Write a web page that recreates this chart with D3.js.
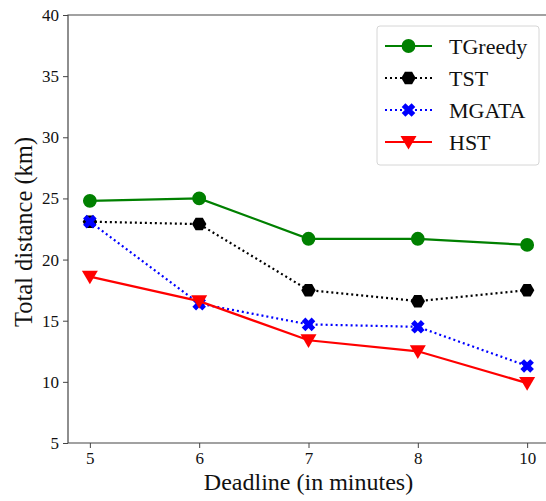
<!DOCTYPE html>
<html lang="en">
<head>
  <meta charset="UTF-8">
  <title>Total distance</title>
</head>
<body style="margin:0;background:#fff">
  <script src="https://d3js.org/d3.v7.min.js"></script>
  <script>
    const width = 546;
    const height = 501;
    const serif = '"Liberation Serif", "DejaVu Serif", serif';

    const deadlines = ['5', '6', '7', '8', '10'];
    const yTicks = [5, 10, 15, 20, 25, 30, 35, 40];
    const tgreedy = [24.8, 25.0, 21.7, 21.7, 21.2];
    const tst = [23.1, 22.9, 17.5, 16.6, 17.5];
    const mgata = [23.1, 16.4, 14.7, 14.5, 11.3];
    const hst = [18.6, 16.6, 13.4, 12.5, 9.9];

    const series = [
      { name: 'TGreedy', values: tgreedy, color: 'green', dash: null, marker: 'circle' },
      { name: 'TST', values: tst, color: 'black', dash: '2,3', marker: 'hexagon' },
      { name: 'MGATA', values: mgata, color: 'blue', dash: '2,3', marker: 'x' },
      { name: 'HST', values: hst, color: 'red', dash: null, marker: 'tri' }
    ];

    const mLeft = 68, mRight = 549, mTop = 15, mBottom = 443;

    const x = d3.scalePoint()
                .domain(deadlines)
                .range([mLeft, mRight])
                .padding(0.2);
    const y = d3.scaleLinear()
                .domain([5, 40])
                .range([mBottom, mTop]);

    const svg = d3.select('body')
                  .append('svg')
                  .attr('width', width)
                  .attr('height', height)
                  .style('font-family', serif);

    // marker shapes
    const markerPath = (type) => {
      if (type === 'circle') return d3.symbol(d3.symbolCircle, 150)();
      if (type === 'hexagon') {
        const r = 7.2;
        const pts = d3.range(6).map(i => {
          const a = Math.PI / 3 * i;
          return [r * Math.cos(a), r * Math.sin(a)];
        });
        return 'M' + pts.join('L') + 'Z';
      }
      if (type === 'x') {
        const a = 7, b = 2.6;
        // filled X made of a rotated plus
        const p = [[-b, -a], [b, -a], [b, -b], [a, -b], [a, b], [b, b], [b, a], [-b, a], [-b, b], [-a, b], [-a, -b], [-b, -b]];
        const c = Math.SQRT1_2;
        return 'M' + p.map(([px, py]) => [(px - py) * c, (px + py) * c]).join('L') + 'Z';
      }
      // triangle pointing down
      const s = 8;
      return `M${-s},${-s * 0.75}L${s},${-s * 0.75}L0,${s * 0.95}Z`;
    };

    // axes
    const yAxis = d3.axisLeft(y).tickValues(yTicks).tickSize(5).tickPadding(4);
    const xAxis = d3.axisBottom(x).tickSize(5).tickPadding(4);

    const gy = svg.append('g')
                  .attr('transform', 'translate(' + mLeft + ',0)')
                  .call(yAxis);
    const gx = svg.append('g')
                  .attr('transform', 'translate(0,' + mBottom + ')')
                  .call(xAxis);
    [gx, gy].forEach(g => {
      g.attr('font-family', null).attr('font-size', null);
      g.select('.domain').remove();
      g.selectAll('line').attr('stroke', '#444');
      g.selectAll('text')
       .style('font-family', serif)
       .style('font-size', '17px')
       .attr('fill', '#111');
    });

    // frame
    svg.append('path')
       .attr('d', `M${mRight},${mTop}H${mLeft}V${mBottom}H${mRight}`)
       .attr('fill', 'none')
       .attr('stroke', '#444')
       .attr('stroke-width', 1.2);

    // lines
    const line = d3.line()
                   .x((d, i) => x(deadlines[i]))
                   .y(d => y(d));

    series.forEach(s => {
      svg.append('path')
         .datum(s.values)
         .attr('d', line)
         .attr('fill', 'none')
         .attr('stroke', s.color)
         .attr('stroke-width', 2.2)
         .attr('stroke-dasharray', s.dash);
      svg.selectAll(null)
         .data(s.values)
         .enter()
         .append('path')
         .attr('d', markerPath(s.marker))
         .attr('transform', (d, i) => 'translate(' + x(deadlines[i]) + ',' + y(d) + ')')
         .attr('fill', s.color);
    });

    // axis labels
    svg.append('text')
       .attr('x', (mLeft + mRight) / 2)
       .attr('y', 490)
       .attr('text-anchor', 'middle')
       .attr('fill', '#111')
       .style('font-family', serif)
       .style('font-size', '24px')
       .text('Deadline (in minutes)');
    svg.append('text')
       .attr('transform', 'translate(32,232) rotate(-90)')
       .attr('text-anchor', 'middle')
       .attr('fill', '#111')
       .style('font-family', serif)
       .style('font-size', '24.5px')
       .text('Total distance (km)');

    // legend
    const legend = svg.append('g');
    legend.append('rect')
          .attr('x', 377)
          .attr('y', 26)
          .attr('width', 162)
          .attr('height', 139)
          .attr('rx', 3)
          .attr('fill', '#fff')
          .attr('stroke', '#d6d6d6');
    series.forEach((s, i) => {
      const ly = 46 + i * 32;
      legend.append('line')
            .attr('x1', 385).attr('x2', 432)
            .attr('y1', ly).attr('y2', ly)
            .attr('stroke', s.color)
            .attr('stroke-width', 2.2)
            .attr('stroke-dasharray', s.dash);
      legend.append('path')
            .attr('d', markerPath(s.marker))
            .attr('transform', 'translate(408.5,' + ly + ')')
            .attr('fill', s.color);
      legend.append('text')
            .attr('x', 449)
            .attr('y', ly + 8)
            .attr('fill', '#111')
            .style('font-family', serif)
            .style('font-size', '22px')
            .text(s.name);
    });
  </script>
</body>
</html>
